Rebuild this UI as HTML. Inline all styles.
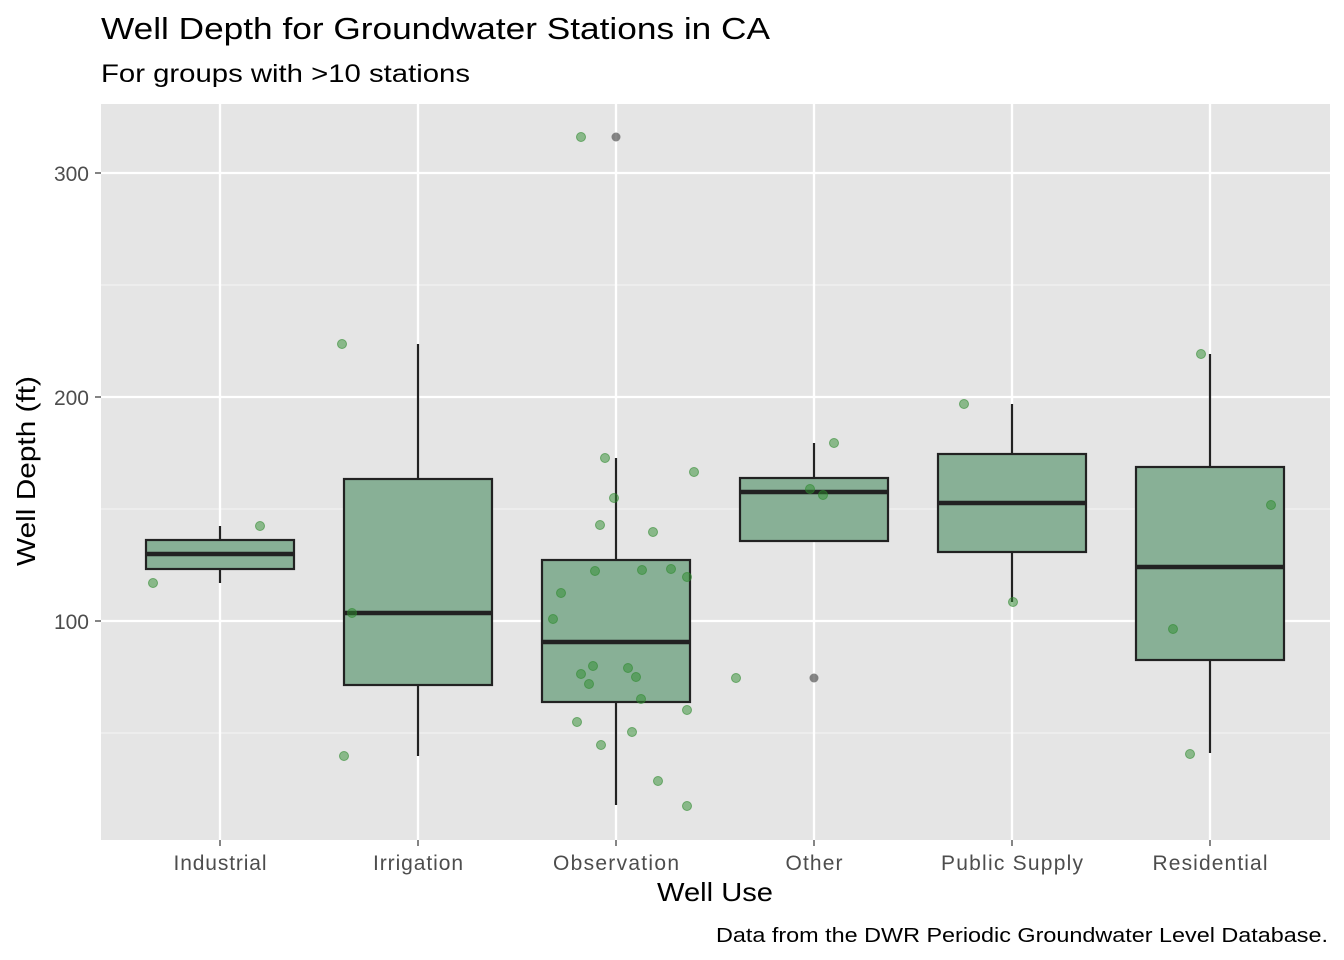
<!DOCTYPE html>
<html><head><meta charset="utf-8"><style>body{margin:0;background:#fff}svg{display:block}text{font-family:"Liberation Sans",Arial,sans-serif}</style></head>
<body>
<svg width="1344" height="960" xmlns="http://www.w3.org/2000/svg">
<rect x="0" y="0" width="1344" height="960" fill="#fff"/>
<text x="101" y="39" font-size="31" fill="#000" textLength="669" lengthAdjust="spacingAndGlyphs">Well Depth for Groundwater Stations in CA</text>
<text x="101" y="82" font-size="25" fill="#000" textLength="369" lengthAdjust="spacingAndGlyphs">For groups with &gt;10 stations</text>
<rect x="101" y="104" width="1229" height="736" fill="#e5e5e5"/>
<g stroke="#f2f2f2" stroke-width="1.2">
<line x1="101" x2="1330" y1="285" y2="285"/><line x1="101" x2="1330" y1="509" y2="509"/><line x1="101" x2="1330" y1="733" y2="733"/>
</g>
<g stroke="#fff" stroke-width="2.3">
<line x1="101" x2="1330" y1="173" y2="173"/><line x1="101" x2="1330" y1="397" y2="397"/><line x1="101" x2="1330" y1="621" y2="621"/>
<line y1="104" y2="840" x1="220" x2="220"/><line y1="104" y2="840" x1="418" x2="418"/><line y1="104" y2="840" x1="616" x2="616"/><line y1="104" y2="840" x1="814" x2="814"/><line y1="104" y2="840" x1="1012" x2="1012"/><line y1="104" y2="840" x1="1210" x2="1210"/>
</g>
<g stroke="#222" stroke-width="2.2">
<line x1="220" x2="220" y1="526" y2="583"/>
<line x1="418" x2="418" y1="344" y2="756"/>
<line x1="616" x2="616" y1="458" y2="805"/>
<line x1="814" x2="814" y1="443" y2="541"/>
<line x1="1012" x2="1012" y1="404" y2="602"/>
<line x1="1210" x2="1210" y1="354" y2="753"/>
</g>
<g fill="#88b096" stroke="#222" stroke-width="2.2">
<rect x="146" y="540" width="148" height="29"/>
<rect x="344" y="479" width="148" height="206"/>
<rect x="542" y="560" width="148" height="142"/>
<rect x="740" y="478" width="148" height="63"/>
<rect x="938" y="454" width="148" height="98"/>
<rect x="1136" y="467" width="148" height="193"/>
</g>
<g stroke="#222" stroke-width="4.5">
<line x1="146" x2="294" y1="554" y2="554"/><line x1="344" x2="492" y1="613" y2="613"/><line x1="542" x2="690" y1="642" y2="642"/><line x1="740" x2="888" y1="492" y2="492"/><line x1="938" x2="1086" y1="503" y2="503"/><line x1="1136" x2="1284" y1="567" y2="567"/>
</g>
<g fill="#555" fill-opacity="0.7"><circle cx="616" cy="137" r="4.5"/><circle cx="814" cy="678" r="4.5"/></g>
<g fill="#2e8b2e" fill-opacity="0.5" stroke="#2e8b2e" stroke-opacity="0.6">
<circle cx="153" cy="583" r="4.5"/><circle cx="260" cy="526" r="4.5"/>
<circle cx="342" cy="344" r="4.5"/><circle cx="352" cy="613" r="4.5"/><circle cx="344" cy="756" r="4.5"/>
<circle cx="581" cy="137" r="4.5"/><circle cx="605" cy="458" r="4.5"/><circle cx="694" cy="472" r="4.5"/><circle cx="614" cy="498" r="4.5"/><circle cx="600" cy="525" r="4.5"/><circle cx="653" cy="532" r="4.5"/><circle cx="595" cy="571" r="4.5"/><circle cx="642" cy="570" r="4.5"/><circle cx="671" cy="569" r="4.5"/><circle cx="687" cy="577" r="4.5"/><circle cx="561" cy="593" r="4.5"/><circle cx="553" cy="619" r="4.5"/><circle cx="593" cy="666" r="4.5"/><circle cx="628" cy="668" r="4.5"/><circle cx="581" cy="674" r="4.5"/><circle cx="636" cy="677" r="4.5"/><circle cx="589" cy="684" r="4.5"/><circle cx="641" cy="699" r="4.5"/><circle cx="687" cy="710" r="4.5"/><circle cx="577" cy="722" r="4.5"/><circle cx="632" cy="732" r="4.5"/><circle cx="601" cy="745" r="4.5"/><circle cx="658" cy="781" r="4.5"/><circle cx="687" cy="806" r="4.5"/><circle cx="736" cy="678" r="4.5"/>
<circle cx="834" cy="443" r="4.5"/><circle cx="810" cy="489" r="4.5"/><circle cx="823" cy="495" r="4.5"/>
<circle cx="964" cy="404" r="4.5"/><circle cx="1013" cy="602" r="4.5"/>
<circle cx="1201" cy="354" r="4.5"/><circle cx="1271" cy="505" r="4.5"/><circle cx="1173" cy="629" r="4.5"/><circle cx="1190" cy="754" r="4.5"/>
</g>
<g stroke="#333" stroke-width="1.2">
<line x1="95" x2="101" y1="173" y2="173"/><line x1="95" x2="101" y1="397" y2="397"/><line x1="95" x2="101" y1="621" y2="621"/>
<line y1="840" y2="846" x1="220" x2="220"/><line y1="840" y2="846" x1="418" x2="418"/><line y1="840" y2="846" x1="616" x2="616"/><line y1="840" y2="846" x1="814" x2="814"/><line y1="840" y2="846" x1="1012" x2="1012"/><line y1="840" y2="846" x1="1210" x2="1210"/>
</g>
<g font-size="21" fill="#4d4d4d" text-anchor="end">
<text x="89" y="181">300</text><text x="89" y="405">200</text><text x="89" y="629">100</text>
</g>
<g font-size="21" fill="#4d4d4d" text-anchor="middle" lengthAdjust="spacingAndGlyphs">
<text x="220" y="870" textLength="93">Industrial</text><text x="418" y="870" textLength="90">Irrigation</text><text x="616" y="870" textLength="126">Observation</text><text x="814" y="870" textLength="57">Other</text><text x="1012" y="870" textLength="142">Public Supply</text><text x="1210" y="870" textLength="115">Residential</text>
</g>
<text x="715" y="901" font-size="26" text-anchor="middle" fill="#000" textLength="116" lengthAdjust="spacingAndGlyphs">Well Use</text>
<text transform="translate(35,471) rotate(-90)" font-size="26" text-anchor="middle" fill="#000" textLength="190" lengthAdjust="spacingAndGlyphs">Well Depth (ft)</text>
<text x="1328" y="942" font-size="20" text-anchor="end" fill="#000" textLength="612" lengthAdjust="spacingAndGlyphs">Data from the DWR Periodic Groundwater Level Database.</text>
</svg>
</body></html>
